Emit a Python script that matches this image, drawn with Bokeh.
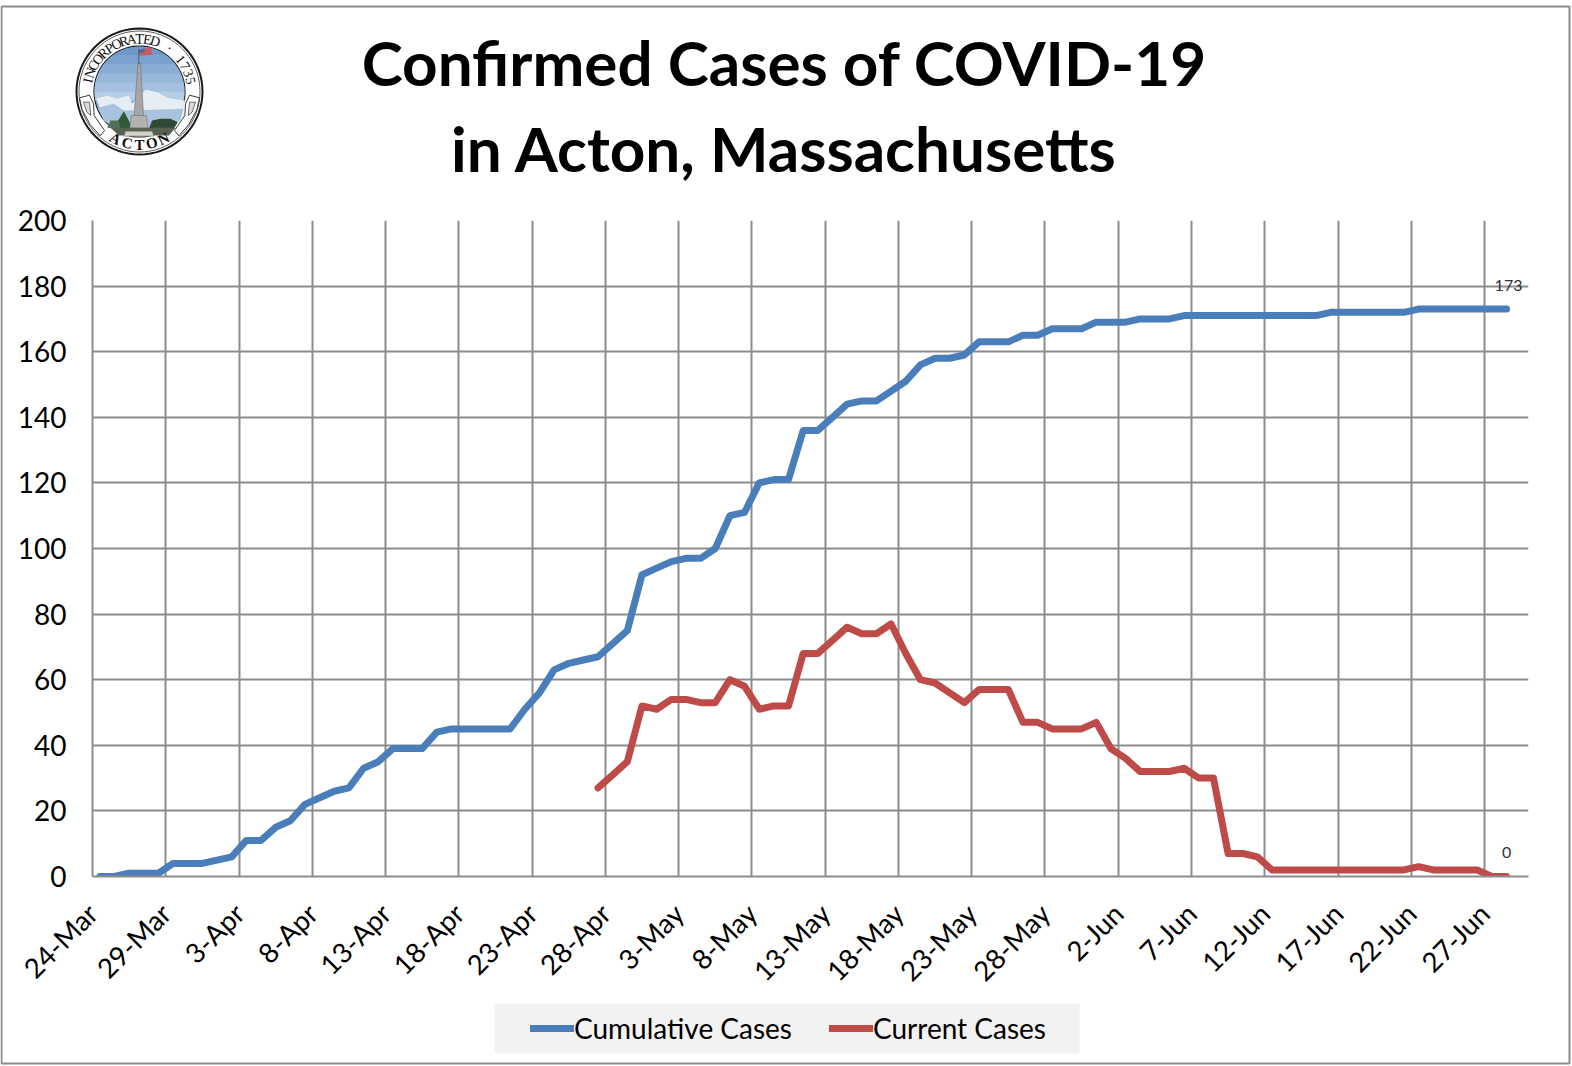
import numpy as np
from bokeh.core.properties import value
from bokeh.embed import file_html
from bokeh.models import FixedTicker, Legend, LegendItem, Range1d
from bokeh.plotting import figure
from bokeh.resources import INLINE

title_lines = ["Confirmed Cases of COVID-19", "in Acton, Massachusetts"]
tick_labels = ["24-Mar", "29-Mar", "3-Apr", "8-Apr", "13-Apr", "18-Apr", "23-Apr", "28-Apr",
               "3-May", "8-May", "13-May", "18-May", "23-May", "28-May", "2-Jun", "7-Jun",
               "12-Jun", "17-Jun", "22-Jun", "27-Jun"]
y_ticks = [0, 20, 40, 60, 80, 100, 120, 140, 160, 180, 200]
series_names = ["Cumulative Cases", "Current Cases"]

# one value per day from 24-Mar
cumulative = [0, 0, 1, 1, 1, 4, 4, 4, 5, 6, 11, 11, 15, 17, 22, 24, 26, 27, 33, 35,
              39, 39, 39, 44, 45, 45, 45, 45, 45, 51, 56, 63, 65, 66, 67, 71, 75, 92, 94, 96,
              97, 97, 100, 110, 111, 120, 121, 121, 136, 136, 140, 144, 145, 145, 148, 151,
              156, 158, 158, 159, 163, 163, 163, 165, 165, 167, 167, 167, 169, 169, 169,
              170, 170, 170, 171, 171, 171, 171, 171, 171, 171, 171, 171, 171,
              172, 172, 172, 172, 172, 172, 173, 173, 173, 173, 173, 173, 173]
# one value per day from 27-Apr
current = [27, 31, 35, 52, 51, 54, 54, 53, 53, 60, 58, 51, 52, 52, 68, 68, 72, 76, 74, 74,
           77, 68, 60, 59, 56, 53, 57, 57, 57, 47, 47, 45, 45, 45, 47, 39, 36, 32, 32, 32,
           33, 30, 30, 7, 7, 6, 2, 2, 2, 2, 2, 2, 2, 2, 2, 2, 3, 2, 2, 2, 2, 0, 0]
current_first_day = 34

days = list(range(len(cumulative)))
current_days = [current_first_day + i for i in range(len(current))]

FONT = "Lato"
GRID = "#8c8c8c"
BLUE = "#4a7ebb"
RED = "#be4b48"
LW = 7
L, R, T, B = 92, 1528, 220, 876

p = figure(width=1572, height=1066, output_backend="svg", toolbar_location=None,
           x_range=Range1d(-0.5, 97.5), y_range=Range1d(0, 200),
           frame_width=R - L, frame_height=B - T,
           min_border_left=L, min_border_right=1572 - R,
           min_border_top=T, min_border_bottom=1066 - B)
p.styles = {"position": "absolute", "left": "0px", "top": "0px"}
p.outline_line_color = None
p.background_fill_color = "white"
p.border_fill_color = "white"

p.xaxis.ticker = FixedTicker(ticks=[i * 5 - 0.5 for i in range(len(tick_labels))])
p.xaxis.major_label_overrides = {i * 5 - 0.5: t for i, t in enumerate(tick_labels)}
p.xaxis.major_label_orientation = np.pi / 4
p.yaxis.ticker = FixedTicker(ticks=y_ticks)
for ax in (p.xaxis, p.yaxis):
    ax.major_tick_line_color = None
    ax.minor_tick_line_color = None
    ax.axis_line_color = GRID
    ax.axis_line_width = 2
    ax.major_label_text_font = FONT
    ax.major_label_text_color = "black"
p.xaxis.major_label_text_font_size = "27.5px"
p.yaxis.major_label_text_font_size = "28px"
p.xaxis.major_label_standoff = 26
p.yaxis.major_label_standoff = 20
p.xgrid.ticker = p.xaxis[0].ticker
p.ygrid.ticker = p.yaxis[0].ticker
p.grid.grid_line_color = GRID
p.grid.grid_line_width = 2

p.line(days, cumulative, line_color=BLUE, line_width=LW, line_join="round", line_cap="round")
p.line(current_days, current, line_color=RED, line_width=LW, line_join="round", line_cap="round")

p.text([days[-1]], [cumulative[-1]], text=[str(cumulative[-1])], text_font=value(FONT),
       text_font_size="16px", text_color="#303030", text_align="center",
       text_baseline="middle", y_offset=-24, x_offset=2)
p.text([current_days[-1]], [current[-1]], text=[str(current[-1])], text_font=value(FONT),
       text_font_size="16px", text_color="#303030", text_align="center",
       text_baseline="middle", y_offset=-24, x_offset=0)

# ---- transparent page layer in pixel coordinates: title, seal, legend, border ----
q = figure(width=1572, height=1066, output_backend="svg", toolbar_location=None,
           x_range=Range1d(0, 1572), y_range=Range1d(1066, 0), x_axis_type=None, y_axis_type=None,
           min_border=0, min_border_left=0, min_border_right=0, min_border_top=0, min_border_bottom=0)
q.styles = {"position": "absolute", "left": "0px", "top": "0px"}
q.outline_line_color = None
q.background_fill_alpha = 0
q.border_fill_alpha = 0
q.grid.visible = False

q.quad(left=[1], right=[1569], top=[6], bottom=[1063], fill_alpha=0, line_color=GRID, line_width=2)
q.text([784, 784], [61, 147], text=title_lines, text_font=value(FONT), text_font_size="62px",
       text_font_style="bold", text_color="black", text_align="center", text_baseline="middle")


def poly(xs, ys, fill, line=None, lw=1.0):
    q.patch(list(map(float, xs)), list(map(float, ys)), fill_color=fill, line_color=line, line_width=lw)


CX, CY = 139.0, 91.0


def disc(r, fill, line=None, lw=1.0):
    t = np.linspace(0, 2 * np.pi, 73)[:-1]
    poly(CX + r * np.cos(t), CY + r * np.sin(t), fill, line, lw)


def band(y1, y2, fill, r=45.0):
    ys = np.linspace(y1, y2, 14)
    hw = np.sqrt(np.maximum(r * r - (ys - CY) ** 2, 0))
    poly(np.r_[CX - hw, (CX + hw)[::-1]], np.r_[ys, ys[::-1]], fill)


def z(pts):
    return [60 + a / 3 for a, b in pts], [20 + b / 3 for a, b in pts]


disc(63, "white", "#1a1a1a", 2)
disc(60.5, "white", "#333333", 0.8)
disc(45.5, "#8db0d6", "#222222", 1.2)
sky = ["#6f98c8", "#7ba2ce", "#88acd4", "#96b6da", "#a5c0e0", "#b6cde6"]
for i, c in enumerate(sky):
    band(CY - 45 + i * 9, CY - 45 + (i + 1) * 9, c)
poly(*z([(108, 235), (140, 225), (170, 235), (205, 225), (215, 250), (255, 208), (290, 215), (320, 232),
         (372, 240), (370, 290), (330, 300), (150, 310), (125, 285)]), "#e6edf5")
poly(*z([(112, 262), (160, 250), (190, 270), (280, 268), (368, 265), (360, 300), (320, 320), (160, 322), (130, 300)]), "#a9c3de")
poly(*z([(160, 322), (190, 272), (218, 325)]), "#2f5a36")
poly(*z([(140, 322), (150, 300), (175, 300), (180, 325)]), "#55705a")
poly(*z([(265, 325), (275, 300), (300, 295), (330, 295), (352, 305), (340, 325)]), "#2e4a36")
poly(*z([(150, 322), (345, 322), (325, 345), (175, 345)]), "#55604f")
poly(*z([(232, 130), (240, 130), (249, 285), (221, 285)]), "#a6a6a8", "#6f6f72", 0.6)
poly(*z([(236, 124), (240, 130), (232, 130)]), "#777777")
poly(*z([(212, 285), (258, 285), (262, 322), (208, 322)]), "#b4b2ad", "#77756f", 0.6)
poly(*z([(195, 332), (275, 332), (280, 347), (190, 347)]), "#d4d1c8", "#77756f", 0.6)
poly(*z([(234, 88), (272, 80), (275, 102), (238, 106)]), "#cf5a5a")
poly(*z([(234, 88), (252, 84), (253, 96), (236, 98)]), "#4a6da3")
poly(*z([(234, 86), (236, 86), (236, 130), (234, 130)]), "#444444")

for sign in (-1, 1):
    sx = [sign * v + 237 for v in (-180, -150, -138, -136, -105, -118, -148, -172)]
    sy = [232, 224, 250, 285, 330, 346, 312, 268]
    poly(*z(list(zip(sx, sy))), "white", "#222222", 0.9)
    sx2 = [sign * v + 237 for v in (-168, -150, -146, -158)]
    sy2 = [245, 245, 285, 275]
    poly(*z(list(zip(sx2, sy2))), "#dddddd", "#333333", 0.7)

upper = "INCORPORATED · 1735"
for i, ch in enumerate(upper):
    a = np.radians(168 - i * (156 / (len(upper) - 1)))
    q.text([float(CX + 52.5 * np.cos(a))], [float(CY - 52.5 * np.sin(a))], text=[ch], angle=float(a - np.pi / 2),
           text_font=value("Liberation Serif"), text_font_size="14px", text_color="#111111",
           text_align="center", text_baseline="middle")
lower = "ACTON"
for i, ch in enumerate(lower):
    a = np.radians(243 + i * 13.5)
    q.text([float(CX + 53 * np.cos(a))], [float(CY - 53 * np.sin(a))], text=[ch], angle=float(a + np.pi / 2),
           text_font=value("Liberation Serif"), text_font_size="15px", text_font_style="bold",
           text_color="#111111", text_align="center", text_baseline="middle")

# legend: grey band with a transparent legend on it; the key lines lie outside the visible page range
q.quad(left=[494], right=[1079], top=[1003], bottom=[1053], fill_color="#f2f2f2", line_color=None)
k1 = q.line([-40, -20], [-40, -40], line_color=BLUE, line_width=LW, line_cap="round")
k2 = q.line([-40, -20], [-60, -60], line_color=RED, line_width=LW, line_cap="round")
legend = Legend(items=[LegendItem(label=series_names[0], renderers=[k1]),
                       LegendItem(label=series_names[1], renderers=[k2])],
                orientation="horizontal", location=(530, 13), background_fill_alpha=0,
                border_line_color=None, glyph_width=44, glyph_height=50,
                label_standoff=0, spacing=37, padding=0, margin=0,
                label_text_font=FONT, label_text_font_size="28px", label_text_color="black")
q.add_layout(legend, "center")

open("out.html", "w").write(file_html([p, q], INLINE))
